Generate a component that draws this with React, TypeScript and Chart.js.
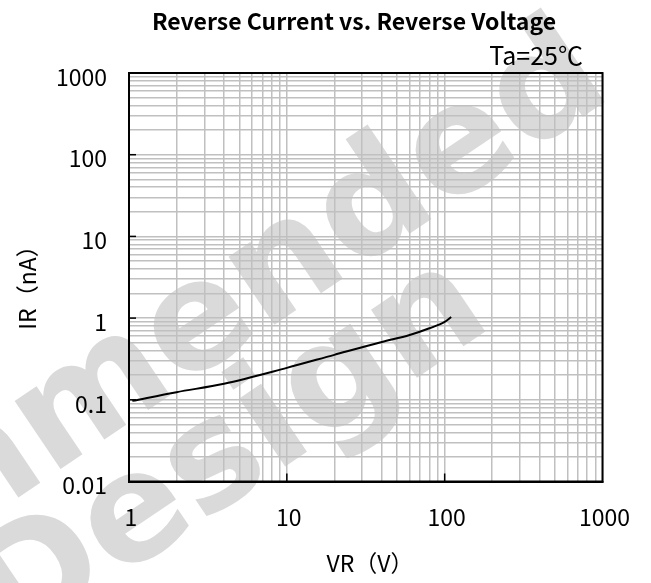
import { useEffect, useRef } from 'react';
import { Chart, registerables } from 'chart.js';

Chart.register(...registerables);

// ---- data ----
const VR = [1.05, 2, 4, 10, 20, 40, 60, 80, 100, 110];
const IR = [0.097, 0.124, 0.157, 0.246, 0.355, 0.51, 0.62, 0.75, 0.9, 1.03];

const X_DECADES = [1, 10, 100];
const Y_DECADES = [0.01, 0.1, 1, 10, 100];
const STEPS = [1, 2, 3, 4, 5, 6, 7, 8, 9];
const X_MAX = 1000;
const Y_MAX = 1000;
const X_LABELS = ['1', '10', '100', '1000'];
const Y_LABELS = ['0.01', '0.1', '1', '10', '100', '1000'];

const TITLE = 'Reverse Current vs. Reverse Voltage';
const NOTE = 'Ta=25℃';
const X_TITLE = 'VR（V）';
const Y_TITLE = 'IR（nA）';
const WATERMARK = ['Not Recommended', 'for New Design'];

const FONT = '"Noto Sans CJK JP", "Liberation Sans", sans-serif';
const GRID = '#c0c0c0';

function buildTicks(decades: number[], max: number) {
  const t: { value: number }[] = [];
  decades.forEach((d) => STEPS.forEach((s) => t.push({ value: parseFloat((d * s).toPrecision(6)) })));
  t.push({ value: max });
  return t;
}

function labelFor(v: number, labels: string[]) {
  const s = String(parseFloat(Number(v).toPrecision(6)));
  return labels.includes(s) ? s : '';
}

const decor = {
  id: 'decor',
  beforeDraw(chart: any) {
    const ctx = chart.ctx;
    ctx.save();
    ctx.fillStyle = '#ffffff';
    ctx.fillRect(0, 0, chart.width, chart.height);
    ctx.fillStyle = '#dadada';
    ctx.font = 'bold 150px "DejaVu Sans", "Liberation Sans", sans-serif';
    ctx.textAlign = 'right';
    ctx.textBaseline = 'alphabetic';
    const ang = (-34 * Math.PI) / 180;
    ctx.save();
    ctx.translate(615, 95);
    ctx.rotate(ang);
    ctx.fillText(WATERMARK[0], 0, 0);
    ctx.restore();
    ctx.save();
    ctx.translate(495, 325);
    ctx.rotate(ang);
    ctx.fillText(WATERMARK[1], 0, 0);
    ctx.restore();
    ctx.restore();
  },
  afterDraw(chart: any) {
    const ctx = chart.ctx;
    const a = chart.chartArea;
    const xs = chart.scales.x;
    const ys = chart.scales.y;
    ctx.save();
    // inward major ticks
    ctx.strokeStyle = '#000';
    ctx.lineWidth = 1.5;
    [10, 100].forEach((v) => {
      const px = xs.getPixelForValue(v);
      ctx.beginPath();
      ctx.moveTo(px, a.bottom);
      ctx.lineTo(px, a.bottom - 8);
      ctx.stroke();
    });
    [0.1, 1, 10, 100].forEach((v) => {
      const py = ys.getPixelForValue(v);
      ctx.beginPath();
      ctx.moveTo(a.left, py);
      ctx.lineTo(a.left + 7, py);
      ctx.stroke();
    });
    // frame
    ctx.lineWidth = 2;
    ctx.strokeRect(a.left, a.top, a.right - a.left, a.bottom - a.top);
    // texts
    ctx.fillStyle = '#000';
    ctx.textBaseline = 'middle';
    ctx.textAlign = 'center';
    ctx.font = 'bold 23px ' + FONT;
    ctx.fillText(TITLE, 354, 21);
    ctx.font = '25px ' + FONT;
    ctx.textAlign = 'right';
    ctx.fillText(NOTE, 583, 55);
    ctx.font = '23px ' + FONT;
    ctx.textAlign = 'center';
    ctx.fillText(X_TITLE, 370, 563);
    ctx.translate(27, 282);
    ctx.rotate(-Math.PI / 2);
    ctx.fillText(Y_TITLE, 0, 0);
    ctx.restore();
  },
};

export default function App() {
  const ref = useRef<HTMLCanvasElement | null>(null);
  useEffect(() => {
    if (!ref.current) return;
    const chart = new Chart(ref.current, {
      type: 'line',
      data: {
        datasets: [
          {
            data: VR.map((x, i) => ({ x, y: IR[i] })),
            borderColor: '#000',
            borderWidth: 2,
            pointRadius: 0,
            fill: false,
            cubicInterpolationMode: 'monotone',
          },
        ],
      },
      options: {
        responsive: false,
        animation: false,
        events: [],
        layout: { padding: { left: 0, right: 48.5, top: 73, bottom: 0 } },
        plugins: { legend: { display: false }, tooltip: { enabled: false }, title: { display: false } },
        scales: {
          x: {
            type: 'logarithmic',
            min: 1,
            max: X_MAX,
            afterBuildTicks: (s: any) => {
              s.ticks = buildTicks(X_DECADES, X_MAX);
            },
            afterFit: (s: any) => {
              s.height = 101.5;
            },
            ticks: {
              autoSkip: false,
              maxRotation: 0,
              padding: 22,
              labelOffset: 2,
              color: '#000',
              font: { family: FONT, size: 23 },
              callback: (v: any) => labelFor(v, X_LABELS),
            },
            grid: { color: GRID, lineWidth: 1.5, drawTicks: false },
            border: { display: true, color: '#000', width: 2 },
          },
          y: {
            type: 'logarithmic',
            min: 0.01,
            max: Y_MAX,
            afterBuildTicks: (s: any) => {
              s.ticks = buildTicks(Y_DECADES, Y_MAX);
            },
            afterFit: (s: any) => {
              s.width = 129;
            },
            ticks: {
              autoSkip: false,
              padding: 22,
              labelOffset: 4,
              color: '#000',
              font: { family: FONT, size: 23 },
              callback: (v: any) => labelFor(v, Y_LABELS),
            },
            grid: { color: GRID, lineWidth: 1.5, drawTicks: false },
            border: { display: true, color: '#000', width: 2 },
          },
        },
      },
      plugins: [decor],
    } as any);
    return () => chart.destroy();
  }, []);
  return (
    <div style={{ position: 'absolute', left: 0, top: 0, width: 651, height: 583 }}>
      <canvas ref={ref} width={651} height={583} style={{ display: 'block', width: 651, height: 583 }} />
    </div>
  );
}
